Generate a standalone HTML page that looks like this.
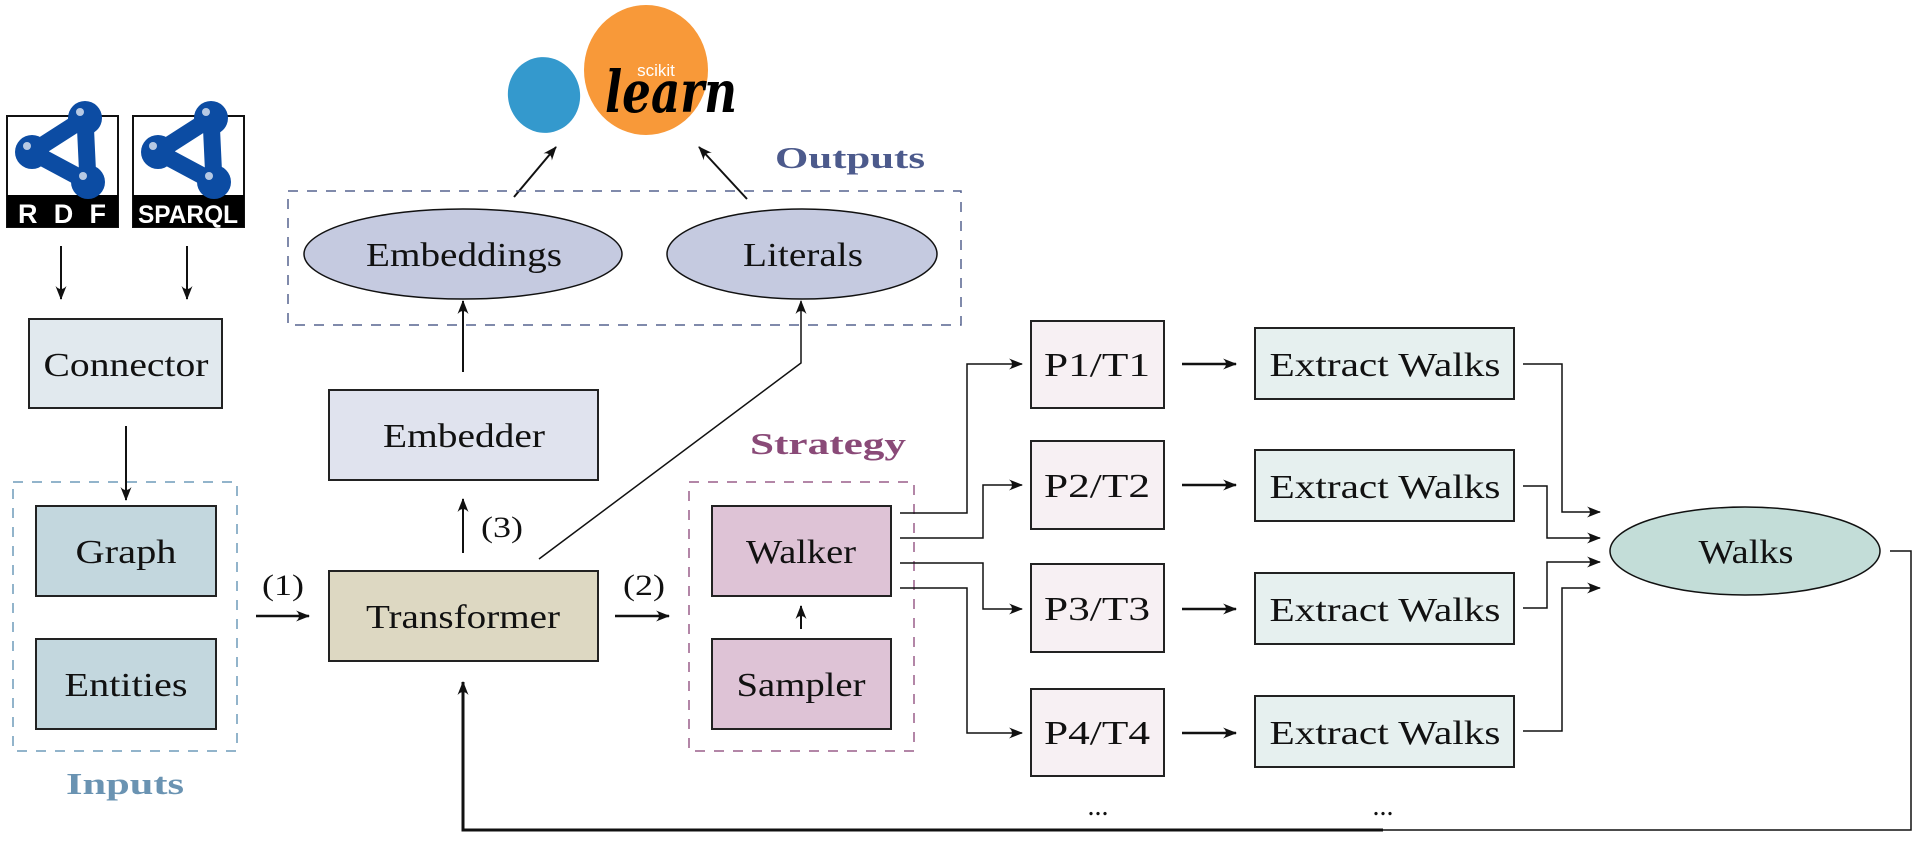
<!DOCTYPE html>
<html><head><meta charset="utf-8"><style>
html,body{margin:0;padding:0;background:#fff;}
svg{display:block;}
text{font-family:"Liberation Serif",serif;fill:#111;}
</style></head><body>
<svg width="1919" height="841" viewBox="0 0 1919 841" xmlns="http://www.w3.org/2000/svg">
<defs>
<marker id="ah" markerWidth="14" markerHeight="11" refX="13" refY="5.5" orient="auto" markerUnits="userSpaceOnUse">
<path d="M0,0 Q6,5.5 0,11 L14,5.5 Z" fill="#111"/>
</marker>
</defs>

<!-- RDF logo -->
<g>
<rect x="7" y="116" width="111" height="111" fill="#fff" stroke="#111" stroke-width="2"/>
<rect x="7" y="195" width="111" height="32" fill="#000"/>
<text x="62" y="223" font-weight="bold" font-size="27" text-anchor="middle" style="fill:#fff;font-family:'Liberation Sans',sans-serif" textLength="88" lengthAdjust="spacing">R D F</text>
<path d="M85,118 L32,152 L88,182 Z" fill="none" stroke="#0c4ca3" stroke-width="17" stroke-linejoin="round"/>
<circle cx="85" cy="118" r="17" fill="#0c4ca3"/><circle cx="32" cy="152" r="17" fill="#0c4ca3"/><circle cx="88" cy="182" r="17" fill="#0c4ca3"/>
<circle cx="80" cy="112" r="4" fill="#fff" opacity=".7"/><circle cx="27" cy="146" r="4" fill="#fff" opacity=".7"/><circle cx="83" cy="176" r="4" fill="#fff" opacity=".7"/>
</g>
<g transform="translate(126,0)">
<rect x="7" y="116" width="111" height="111" fill="#fff" stroke="#111" stroke-width="2"/>
<rect x="7" y="195" width="111" height="32" fill="#000"/>
<text x="62" y="223" font-weight="bold" font-size="25" text-anchor="middle" style="fill:#fff;font-family:'Liberation Sans',sans-serif" textLength="100" lengthAdjust="spacingAndGlyphs">SPARQL</text>
<path d="M85,118 L32,152 L88,182 Z" fill="none" stroke="#0c4ca3" stroke-width="17" stroke-linejoin="round"/>
<circle cx="85" cy="118" r="17" fill="#0c4ca3"/><circle cx="32" cy="152" r="17" fill="#0c4ca3"/><circle cx="88" cy="182" r="17" fill="#0c4ca3"/>
<circle cx="80" cy="112" r="4" fill="#fff" opacity=".7"/><circle cx="27" cy="146" r="4" fill="#fff" opacity=".7"/><circle cx="83" cy="176" r="4" fill="#fff" opacity=".7"/>
</g>

<!-- sklearn -->
<ellipse cx="544" cy="95" rx="36" ry="38" fill="#3499cd" transform="rotate(-15 544 95)"/>
<ellipse cx="646" cy="70" rx="62" ry="65" fill="#f89939"/>
<text x="656" y="76" font-size="17" text-anchor="middle" style="fill:#fff;font-family:'Liberation Sans',sans-serif">scikit</text>
<text x="671" y="112" font-size="58" font-style="italic" font-weight="bold" text-anchor="middle" textLength="132" lengthAdjust="spacingAndGlyphs" style="fill:#000;font-family:'DejaVu Serif',serif">learn</text>

<!-- arrows to sklearn -->
<line x1="514" y1="197" x2="556" y2="147" stroke="#111" stroke-width="2" marker-end="url(#ah)"/>
<line x1="747" y1="199" x2="699" y2="147" stroke="#111" stroke-width="2" marker-end="url(#ah)"/>

<!-- Outputs -->
<text x="850" y="168" font-size="31" font-weight="bold" text-anchor="middle" textLength="150" lengthAdjust="spacingAndGlyphs" style="fill:#4c5a8c">Outputs</text>
<rect x="288" y="191" width="673" height="134" fill="none" stroke="#56638f" stroke-width="1.5" stroke-dasharray="10,9"/>
<ellipse cx="463" cy="254" rx="159" ry="45" fill="#c5cae0" stroke="#111" stroke-width="1.5"/>
<text x="464" y="266" font-size="34" text-anchor="middle" textLength="196" lengthAdjust="spacingAndGlyphs">Embeddings</text>
<ellipse cx="802" cy="254" rx="135" ry="45" fill="#c5cae0" stroke="#111" stroke-width="1.5"/>
<text x="803" y="266" font-size="34" text-anchor="middle" textLength="120" lengthAdjust="spacingAndGlyphs">Literals</text>

<!-- left arrows -->
<line x1="61" y1="246" x2="61" y2="299" stroke="#111" stroke-width="2" marker-end="url(#ah)"/>
<line x1="187" y1="246" x2="187" y2="299" stroke="#111" stroke-width="2" marker-end="url(#ah)"/>
<rect x="29" y="319" width="193" height="89" fill="#e1e9ee" stroke="#222" stroke-width="2"/>
<text x="126" y="376" font-size="34" text-anchor="middle" textLength="165" lengthAdjust="spacingAndGlyphs">Connector</text>
<line x1="126" y1="426" x2="126" y2="500" stroke="#111" stroke-width="2" marker-end="url(#ah)"/>

<!-- Inputs -->
<rect x="13" y="482" width="224" height="269" fill="none" stroke="#6f9cba" stroke-width="1.5" stroke-dasharray="10,9"/>
<rect x="36" y="506" width="180" height="90" fill="#c3d7de" stroke="#222" stroke-width="2"/>
<text x="126" y="563" font-size="34" text-anchor="middle" textLength="101" lengthAdjust="spacingAndGlyphs">Graph</text>
<rect x="36" y="639" width="180" height="90" fill="#c3d7de" stroke="#222" stroke-width="2"/>
<text x="126" y="696" font-size="34" text-anchor="middle" textLength="123" lengthAdjust="spacingAndGlyphs">Entities</text>
<text x="125" y="794" font-size="31" font-weight="bold" text-anchor="middle" textLength="118" lengthAdjust="spacingAndGlyphs" style="fill:#6a93b2">Inputs</text>

<!-- (1) -->
<text x="283" y="595" font-size="30" text-anchor="middle" textLength="42" lengthAdjust="spacingAndGlyphs">(1)</text>
<line x1="256" y1="616" x2="309" y2="616" stroke="#111" stroke-width="2.5" marker-end="url(#ah)"/>

<!-- Transformer -->
<rect x="329" y="571" width="269" height="90" fill="#ddd8c2" stroke="#222" stroke-width="2"/>
<text x="463" y="628" font-size="34" text-anchor="middle" textLength="194" lengthAdjust="spacingAndGlyphs">Transformer</text>
<!-- Embedder -->
<rect x="329" y="390" width="269" height="90" fill="#e0e3ee" stroke="#222" stroke-width="2"/>
<text x="464" y="447" font-size="34" text-anchor="middle" textLength="162" lengthAdjust="spacingAndGlyphs">Embedder</text>
<line x1="463" y1="553" x2="463" y2="499" stroke="#111" stroke-width="2" marker-end="url(#ah)"/>
<text x="502" y="537" font-size="30" text-anchor="middle" textLength="42" lengthAdjust="spacingAndGlyphs">(3)</text>
<line x1="463" y1="372" x2="463" y2="301" stroke="#111" stroke-width="2" marker-end="url(#ah)"/>
<polyline points="539,559 801,363 801,301" fill="none" stroke="#111" stroke-width="1.5" marker-end="url(#ah)"/>

<!-- (2) -->
<text x="644" y="595" font-size="30" text-anchor="middle" textLength="42" lengthAdjust="spacingAndGlyphs">(2)</text>
<line x1="615" y1="616" x2="669" y2="616" stroke="#111" stroke-width="2.5" marker-end="url(#ah)"/>

<!-- Strategy -->
<text x="828" y="454" font-size="31" font-weight="bold" text-anchor="middle" textLength="156" lengthAdjust="spacingAndGlyphs" style="fill:#8a4a78">Strategy</text>
<rect x="689" y="482" width="225" height="269" fill="none" stroke="#9a5f8a" stroke-width="1.5" stroke-dasharray="10,9"/>
<rect x="712" y="506" width="179" height="90" fill="#dec3d6" stroke="#222" stroke-width="2"/>
<text x="801" y="563" font-size="34" text-anchor="middle" textLength="110" lengthAdjust="spacingAndGlyphs">Walker</text>
<rect x="712" y="639" width="179" height="90" fill="#dec3d6" stroke="#222" stroke-width="2"/>
<text x="801" y="696" font-size="34" text-anchor="middle" textLength="129" lengthAdjust="spacingAndGlyphs">Sampler</text>
<line x1="801" y1="629" x2="801" y2="606" stroke="#111" stroke-width="2" marker-end="url(#ah)"/>

<!-- walker to P -->
<g fill="none" stroke="#111" stroke-width="1.5">
<polyline points="900,513 967,513 967,364 1022,364" marker-end="url(#ah)"/>
<polyline points="900,538 983,538 983,485 1022,485" marker-end="url(#ah)"/>
<polyline points="900,563 983,563 983,609 1022,609" marker-end="url(#ah)"/>
<polyline points="900,588 967,588 967,733 1022,733" marker-end="url(#ah)"/>
</g>

<!-- P boxes -->
<g stroke="#222" stroke-width="2" fill="#f7f0f3">
<rect x="1031" y="321" width="133" height="87"/>
<rect x="1031" y="441" width="133" height="88"/>
<rect x="1031" y="564" width="133" height="88"/>
<rect x="1031" y="689" width="133" height="87"/>
</g>
<g font-size="34" text-anchor="middle">
<text x="1097" y="376" textLength="106" lengthAdjust="spacingAndGlyphs">P1/T1</text>
<text x="1097" y="497" textLength="106" lengthAdjust="spacingAndGlyphs">P2/T2</text>
<text x="1097" y="620" textLength="106" lengthAdjust="spacingAndGlyphs">P3/T3</text>
<text x="1097" y="744" textLength="106" lengthAdjust="spacingAndGlyphs">P4/T4</text>
</g>
<g stroke="#111" stroke-width="2.5">
<line x1="1182" y1="364" x2="1236" y2="364" marker-end="url(#ah)"/>
<line x1="1182" y1="485" x2="1236" y2="485" marker-end="url(#ah)"/>
<line x1="1182" y1="609" x2="1236" y2="609" marker-end="url(#ah)"/>
<line x1="1182" y1="733" x2="1236" y2="733" marker-end="url(#ah)"/>
</g>
<!-- Extract walks -->
<g stroke="#222" stroke-width="2" fill="#e6f0ef">
<rect x="1255" y="328" width="259" height="71"/>
<rect x="1255" y="450" width="259" height="71"/>
<rect x="1255" y="573" width="259" height="71"/>
<rect x="1255" y="696" width="259" height="71"/>
</g>
<g font-size="34" text-anchor="middle">
<text x="1385" y="376" textLength="231" lengthAdjust="spacingAndGlyphs">Extract Walks</text>
<text x="1385" y="498" textLength="231" lengthAdjust="spacingAndGlyphs">Extract Walks</text>
<text x="1385" y="621" textLength="231" lengthAdjust="spacingAndGlyphs">Extract Walks</text>
<text x="1385" y="744" textLength="231" lengthAdjust="spacingAndGlyphs">Extract Walks</text>
</g>
<g fill="none" stroke="#111" stroke-width="1.5">
<polyline points="1523,364 1562,364 1562,512 1600,512" marker-end="url(#ah)"/>
<polyline points="1523,486 1547,486 1547,538 1600,538" marker-end="url(#ah)"/>
<polyline points="1523,608 1547,608 1547,562 1600,562" marker-end="url(#ah)"/>
<polyline points="1523,731 1562,731 1562,588 1600,588" marker-end="url(#ah)"/>
</g>
<ellipse cx="1745" cy="551" rx="135" ry="44" fill="#c3ddd8" stroke="#111" stroke-width="1.5"/>
<text x="1746" y="563" font-size="34" text-anchor="middle" textLength="95" lengthAdjust="spacingAndGlyphs">Walks</text>

<!-- dots -->
<text x="1098" y="815" font-size="28" text-anchor="middle">...</text>
<text x="1383" y="815" font-size="28" text-anchor="middle">...</text>

<!-- feedback -->
<polyline points="1890,551 1911,551 1911,830 1383,830" fill="none" stroke="#111" stroke-width="1.5"/>
<polyline points="1383,830 463,830 463,682" fill="none" stroke="#111" stroke-width="3" marker-end="url(#ah)"/>
</svg>
</body></html>
